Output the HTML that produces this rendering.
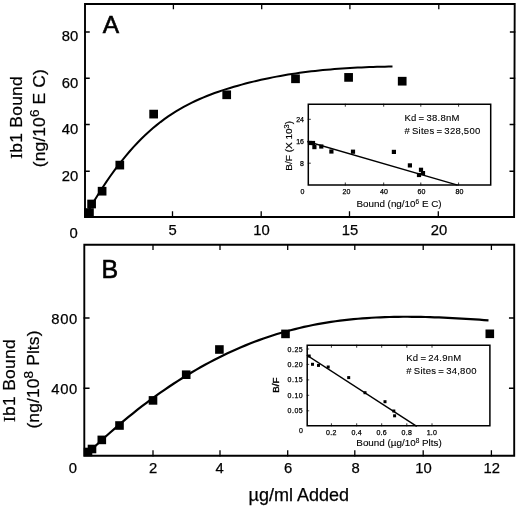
<!DOCTYPE html><html><head><meta charset="utf-8"><style>html,body{margin:0;padding:0;background:#fff;width:520px;height:507px;overflow:hidden}svg{display:block;filter:grayscale(1)}</style></head><body>
<svg width="520" height="507" viewBox="0 0 520 507" font-family="'Liberation Sans', sans-serif">
<g stroke="#000" fill="none" stroke-linecap="square">
<path d="M85,217 L85,4 L514.7,4 L514.1,217 Z" stroke-width="1.9"/>
<path d="M85,32.0 h4 M514.62,32.0 h-4" stroke-width="1.5"/>
<path d="M85,78.3 h4 M514.49,78.3 h-4" stroke-width="1.5"/>
<path d="M85,124.6 h4 M514.36,124.6 h-4" stroke-width="1.5"/>
<path d="M85,171.2 h4 M514.23,171.2 h-4" stroke-width="1.5"/>
<path d="M172.5,217 v-5 M173.4,4 v4.5" stroke-width="1.3"/>
<path d="M261.2,217 v-5 M261.7,4 v4.5" stroke-width="1.3"/>
<path d="M349.5,217 v-5 M349.9,4 v4.5" stroke-width="1.3"/>
<path d="M438.3,217 v-5 M438.8,4 v4.5" stroke-width="1.3"/>
<path d="M84.3,455.8 L84.3,244.8 L514.2,244.8 L514.2,455.8 Z" stroke-width="1.9"/>
<path d="M84.3,318.0 h4.5 M514.2,318.0 h-4.5" stroke-width="1.5"/>
<path d="M84.3,388.2 h4.5 M514.2,388.2 h-4.5" stroke-width="1.5"/>
<path d="M153.0,455.8 v-5 M153.0,244.8 v4.5" stroke-width="1.3"/>
<path d="M220.0,455.8 v-5 M220.0,244.8 v4.5" stroke-width="1.3"/>
<path d="M287.7,455.8 v-5 M287.7,244.8 v4.5" stroke-width="1.3"/>
<path d="M354.8,455.8 v-5 M354.8,244.8 v4.5" stroke-width="1.3"/>
<path d="M423.2,455.8 v-5 M423.2,244.8 v4.5" stroke-width="1.3"/>
<path d="M491.4,455.8 v-5 M491.4,244.8 v4.5" stroke-width="1.3"/>
<path d="M87.00,213.36 L90.87,206.58 L94.73,200.04 L98.60,193.74 L102.47,187.68 L106.34,181.84 L110.20,176.24 L114.07,170.86 L117.94,165.70 L121.80,160.75 L125.67,156.02 L129.54,151.49 L133.41,147.15 L137.27,143.02 L141.14,139.08 L145.01,135.32 L148.87,131.75 L152.74,128.35 L156.61,125.13 L160.47,122.08 L164.34,119.18 L168.21,116.44 L172.08,113.84 L175.94,111.39 L179.81,109.07 L183.68,106.87 L187.54,104.80 L191.41,102.83 L195.28,100.98 L199.15,99.22 L203.01,97.56 L206.88,95.98 L210.75,94.49 L214.61,93.06 L218.48,91.71 L222.35,90.41 L226.22,89.16 L230.08,87.97 L233.95,86.81 L237.82,85.69 L241.68,84.62 L245.55,83.58 L249.42,82.59 L253.28,81.63 L257.15,80.71 L261.02,79.83 L264.89,78.98 L268.75,78.16 L272.62,77.39 L276.49,76.64 L280.35,75.93 L284.22,75.25 L288.09,74.60 L291.96,73.99 L295.82,73.40 L299.69,72.85 L303.56,72.32 L307.42,71.82 L311.29,71.35 L315.16,70.91 L319.03,70.49 L322.89,70.09 L326.76,69.73 L330.63,69.38 L334.49,69.06 L338.36,68.76 L342.23,68.48 L346.09,68.23 L349.96,67.99 L353.83,67.78 L357.70,67.58 L361.56,67.40 L365.43,67.24 L369.30,67.10 L373.16,66.97 L377.03,66.86 L380.90,66.76 L384.77,66.67 L388.63,66.60 L392.50,66.55" stroke-width="2" stroke-linecap="butt"/>
<path d="M88.00,453.03 L92.50,448.72 L97.00,444.49 L101.50,440.33 L106.00,436.25 L110.50,432.24 L115.00,428.30 L119.50,424.44 L124.00,420.65 L128.50,416.94 L133.00,413.29 L137.50,409.73 L142.00,406.23 L146.50,402.81 L151.00,399.45 L155.50,396.17 L160.00,392.97 L164.50,389.83 L169.00,386.77 L173.50,383.77 L178.00,380.85 L182.50,378.00 L187.00,375.22 L191.50,372.51 L196.00,369.87 L200.50,367.30 L205.00,364.79 L209.50,362.36 L214.00,360.00 L218.50,357.71 L223.00,355.48 L227.50,353.33 L232.00,351.24 L236.50,349.22 L241.00,347.27 L245.50,345.38 L250.00,343.57 L254.50,341.82 L259.00,340.14 L263.50,338.52 L268.00,336.97 L272.50,335.49 L277.00,334.07 L281.50,332.72 L286.00,331.44 L290.50,330.22 L295.00,329.06 L299.50,327.97 L304.00,326.93 L308.50,325.95 L313.00,325.04 L317.50,324.17 L322.00,323.37 L326.50,322.61 L331.00,321.91 L335.50,321.26 L340.00,320.66 L344.50,320.11 L349.00,319.60 L353.50,319.15 L358.00,318.73 L362.50,318.36 L367.00,318.03 L371.50,317.75 L376.00,317.50 L380.50,317.29 L385.00,317.12 L389.50,316.98 L394.00,316.88 L398.50,316.81 L403.00,316.77 L407.50,316.76 L412.00,316.78 L416.50,316.83 L421.00,316.91 L425.50,317.01 L430.00,317.13 L434.50,317.28 L439.00,317.45 L443.50,317.64 L448.00,317.85 L452.50,318.07 L457.00,318.32 L461.50,318.57 L466.00,318.84 L470.50,319.12 L475.00,319.42 L479.50,319.72 L484.00,320.03 L488.50,320.35" stroke-width="2.2" stroke-linecap="butt"/>
<path d="M308.3,185 L308.3,104.2 L490.7,104.2 L490.7,185 Z" stroke-width="1.5"/>
<path d="M308,141.7 L457,185" stroke-width="1.4"/>
<path d="M307.2,425.8 L307.2,345.2 L489.9,345.2 L489.9,425.8 Z" stroke-width="1.5"/>
<path d="M307.4,355.5 L416.2,426" stroke-width="1.4"/>
<path d="M345.3,185 v-2 M345.3,104.2 v2" stroke-width="0.8"/>
<path d="M383.7,185 v-2 M383.7,104.2 v2" stroke-width="0.8"/>
<path d="M420.8,185 v-2 M420.8,104.2 v2" stroke-width="0.8"/>
<path d="M458.6,185 v-2 M458.6,104.2 v2" stroke-width="0.8"/>
<path d="M308.3,119.3 h2" stroke-width="0.8"/>
<path d="M308.3,141.3 h2" stroke-width="0.8"/>
<path d="M308.3,163.2 h2" stroke-width="0.8"/>
<path d="M331.4,425.8 v-2 M331.4,345.2 v2" stroke-width="0.8"/>
<path d="M356.7,425.8 v-2 M356.7,345.2 v2" stroke-width="0.8"/>
<path d="M381.7,425.8 v-2 M381.7,345.2 v2" stroke-width="0.8"/>
<path d="M406.8,425.8 v-2 M406.8,345.2 v2" stroke-width="0.8"/>
<path d="M432.0,425.8 v-2 M432.0,345.2 v2" stroke-width="0.8"/>
<path d="M307.2,349.0 h1.5" stroke-width="0.7"/>
<path d="M307.2,364.4 h1.5" stroke-width="0.7"/>
<path d="M307.2,379.9 h1.5" stroke-width="0.7"/>
<path d="M307.2,395.3 h1.5" stroke-width="0.7"/>
<path d="M307.2,410.8 h1.5" stroke-width="0.7"/>
</g>
<g fill="#000">
<rect x="87.25" y="199.65" width="8.70" height="8.70"/>
<rect x="97.75" y="186.85" width="8.70" height="8.70"/>
<rect x="115.45" y="160.75" width="8.70" height="8.70"/>
<rect x="149.30" y="109.75" width="8.70" height="8.70"/>
<rect x="222.35" y="90.45" width="8.70" height="8.70"/>
<rect x="291.15" y="74.45" width="8.70" height="8.70"/>
<rect x="344.25" y="73.05" width="8.70" height="8.70"/>
<rect x="397.85" y="76.85" width="8.70" height="8.70"/>
<rect x="84" y="208.2" width="9.8" height="9"/>
<rect x="83.70" y="447.70" width="8.60" height="8.60"/>
<rect x="87.70" y="444.70" width="8.60" height="8.60"/>
<rect x="97.50" y="435.60" width="8.60" height="8.60"/>
<rect x="115.20" y="421.20" width="8.60" height="8.60"/>
<rect x="148.70" y="396.10" width="8.60" height="8.60"/>
<rect x="181.90" y="370.40" width="8.60" height="8.60"/>
<rect x="215.10" y="345.20" width="8.60" height="8.60"/>
<rect x="281.20" y="329.60" width="8.60" height="8.60"/>
<rect x="485.50" y="329.50" width="8.60" height="8.60"/>
<rect x="307.90" y="140.90" width="4.20" height="4.20"/>
<rect x="310.90" y="140.90" width="4.20" height="4.20"/>
<rect x="312.30" y="145.00" width="4.20" height="4.20"/>
<rect x="319.20" y="144.40" width="4.20" height="4.20"/>
<rect x="329.30" y="149.40" width="4.20" height="4.20"/>
<rect x="350.90" y="149.60" width="4.20" height="4.20"/>
<rect x="391.80" y="149.80" width="4.20" height="4.20"/>
<rect x="407.80" y="163.30" width="4.20" height="4.20"/>
<rect x="418.90" y="167.70" width="4.20" height="4.20"/>
<rect x="416.90" y="172.90" width="4.20" height="4.20"/>
<rect x="420.90" y="171.00" width="4.20" height="4.20"/>
<rect x="307.70" y="354.50" width="3.00" height="3.00"/>
<rect x="311.00" y="362.80" width="3.00" height="3.00"/>
<rect x="317.00" y="363.90" width="3.00" height="3.00"/>
<rect x="326.70" y="365.50" width="3.00" height="3.00"/>
<rect x="347.20" y="376.10" width="3.00" height="3.00"/>
<rect x="363.50" y="391.20" width="3.00" height="3.00"/>
<rect x="383.50" y="400.20" width="3.00" height="3.00"/>
<rect x="392.30" y="409.50" width="3.00" height="3.00"/>
<rect x="393.10" y="414.30" width="3.00" height="3.00"/>
</g>
<g fill="#000" stroke="#000" stroke-width="0.25">
<text x="102.80" y="33.00" font-size="24.50" text-anchor="start" stroke="#000" stroke-width="0.6">A</text>
<text x="101.60" y="277.70" font-size="25.00" text-anchor="start" stroke="#000" stroke-width="0.6">B</text>
<text x="78.20" y="41.30" font-size="14.80" text-anchor="end" >80</text>
<text x="78.20" y="87.60" font-size="14.80" text-anchor="end" >60</text>
<text x="78.20" y="133.90" font-size="14.80" text-anchor="end" >40</text>
<text x="78.20" y="180.50" font-size="14.80" text-anchor="end" >20</text>
<text x="73.50" y="237.90" font-size="14.80" text-anchor="middle" >0</text>
<text x="172.50" y="234.80" font-size="14.80" text-anchor="middle" >5</text>
<text x="261.60" y="234.80" font-size="14.80" text-anchor="middle" >10</text>
<text x="350.00" y="234.80" font-size="14.80" text-anchor="middle" >15</text>
<text x="439.10" y="234.80" font-size="14.80" text-anchor="middle" >20</text>
<text x="77.80" y="323.80" font-size="14.80" text-anchor="end" letter-spacing="0.6">800</text>
<text x="77.80" y="394.00" font-size="14.80" text-anchor="end" letter-spacing="0.6">400</text>
<text x="72.90" y="472.70" font-size="14.80" text-anchor="middle" >0</text>
<text x="153.20" y="472.70" font-size="14.80" text-anchor="middle" >2</text>
<text x="219.50" y="472.70" font-size="14.80" text-anchor="middle" >4</text>
<text x="288.00" y="472.70" font-size="14.80" text-anchor="middle" >6</text>
<text x="355.50" y="472.70" font-size="14.80" text-anchor="middle" >8</text>
<text x="423.40" y="472.70" font-size="14.80" text-anchor="middle" >10</text>
<text x="491.70" y="472.70" font-size="14.80" text-anchor="middle" >12</text>
<text x="298.80" y="500.80" font-size="18.00" text-anchor="middle" >µg/ml Added</text>
<text transform="translate(21.90,117.40) rotate(-90) scale(1,0.9)" font-size="17.5" letter-spacing="0.25" text-anchor="middle"><tspan font-family="'Liberation Serif', serif">I</tspan>b1 Bound</text>
<text transform="translate(44.90,118.20) rotate(-90) scale(1,0.9)" font-size="17.5" letter-spacing="0.1" text-anchor="middle">(ng/10<tspan font-size="13.5" dy="-7">6</tspan><tspan dy="7"> E C)</tspan></text>
<text transform="translate(15.20,380.50) rotate(-90) scale(1,0.9)" font-size="17.5" letter-spacing="0.25" text-anchor="middle"><tspan font-family="'Liberation Serif', serif">I</tspan>b1 Bound</text>
<text transform="translate(39.00,379.50) rotate(-90) scale(1,0.9)" font-size="17.5" letter-spacing="0.1" text-anchor="middle">(ng/10<tspan font-size="13.5" dy="-7">8</tspan><tspan dy="7"> Plts)</tspan></text>
</g>
<g fill="#000" stroke="#000" stroke-width="0.12">
<text x="404.40" y="121.00" font-size="9.50" text-anchor="start" letter-spacing="0.25" word-spacing="-0.8">Kd = 38.8nM</text>
<text x="404.40" y="133.80" font-size="9.50" text-anchor="start" letter-spacing="0.25" word-spacing="-0.8"># Sites = 328,500</text>
<text x="304.00" y="121.80" font-size="7.00" text-anchor="end" stroke-width="0.25">24</text>
<text x="304.00" y="143.80" font-size="7.00" text-anchor="end" stroke-width="0.25">16</text>
<text x="304.00" y="165.70" font-size="7.00" text-anchor="end" stroke-width="0.25">8</text>
<text x="302.40" y="194.30" font-size="7.00" text-anchor="middle" stroke-width="0.25">0</text>
<text x="346.50" y="194.30" font-size="7.00" text-anchor="middle" stroke-width="0.25">20</text>
<text x="384.00" y="194.30" font-size="7.00" text-anchor="middle" stroke-width="0.25">40</text>
<text x="421.50" y="194.30" font-size="7.00" text-anchor="middle" stroke-width="0.25">60</text>
<text x="459.50" y="194.30" font-size="7.00" text-anchor="middle" stroke-width="0.25">80</text>
<text x="399.00" y="207.40" font-size="9.85" text-anchor="middle" >Bound (ng/10<tspan font-size="6.5" dy="-3.5">6</tspan><tspan dy="3.5"> E C)</tspan></text>
<text transform="translate(292.4,145.8) rotate(-90) scale(1,0.85)" font-size="10" text-anchor="middle" stroke-width="0.2">B/F (X 10<tspan font-size="7.5" dy="-3.5">3</tspan><tspan dy="3.5">)</tspan></text>
<text x="406.20" y="361.20" font-size="9.50" text-anchor="start" letter-spacing="0.25" word-spacing="-0.8">Kd = 24.9nM</text>
<text x="406.20" y="374.20" font-size="9.50" text-anchor="start" letter-spacing="0.25" word-spacing="-0.8"># Sites = 34,800</text>
<text x="303.20" y="351.50" font-size="7.00" text-anchor="end" stroke-width="0.25" letter-spacing="0.5">0.25</text>
<text x="303.20" y="366.90" font-size="7.00" text-anchor="end" stroke-width="0.25" letter-spacing="0.5">0.20</text>
<text x="303.20" y="382.40" font-size="7.00" text-anchor="end" stroke-width="0.25" letter-spacing="0.5">0.15</text>
<text x="303.20" y="397.80" font-size="7.00" text-anchor="end" stroke-width="0.25" letter-spacing="0.5">0.10</text>
<text x="303.20" y="413.30" font-size="7.00" text-anchor="end" stroke-width="0.25" letter-spacing="0.5">0.05</text>
<text x="303.00" y="433.30" font-size="7.00" text-anchor="end" stroke-width="0.25">0</text>
<text x="331.40" y="434.60" font-size="7.00" text-anchor="middle" stroke-width="0.25" letter-spacing="0.3">0.2</text>
<text x="356.70" y="434.60" font-size="7.00" text-anchor="middle" stroke-width="0.25" letter-spacing="0.3">0.4</text>
<text x="381.70" y="434.60" font-size="7.00" text-anchor="middle" stroke-width="0.25" letter-spacing="0.3">0.6</text>
<text x="406.80" y="434.60" font-size="7.00" text-anchor="middle" stroke-width="0.25" letter-spacing="0.3">0.8</text>
<text x="432.00" y="434.60" font-size="7.00" text-anchor="middle" stroke-width="0.25" letter-spacing="0.3">1.0</text>
<text x="399.00" y="446.00" font-size="9.85" text-anchor="middle" >Bound (µg/10<tspan font-size="6.5" dy="-3.5">8</tspan><tspan dy="3.5"> Plts)</tspan></text>
<text transform="translate(278.8,385.2) rotate(-90)" font-size="9.8" text-anchor="middle" stroke-width="0.35">B/F</text>
</g>
</svg></body></html>
